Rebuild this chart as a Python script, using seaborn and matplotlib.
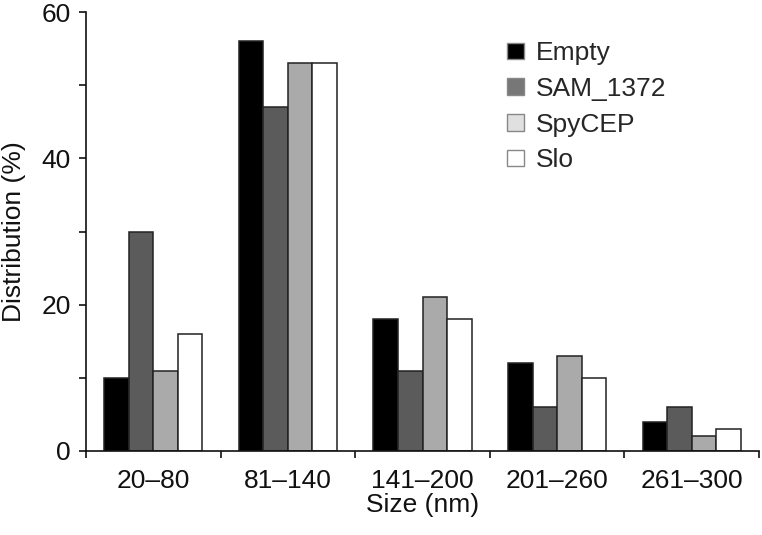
import matplotlib
matplotlib.use("Agg")
import matplotlib.pyplot as plt
from matplotlib.patches import Patch
from matplotlib.ticker import FixedLocator
import seaborn as sns
import pandas as pd

# Data
categories = ["20–80", "81–140", "141–200", "201–260", "261–300"]
series = ["Empty", "SAM_1372", "SpyCEP", "Slo"]
empty = [10, 56, 18, 12, 4]
sam_1372 = [30, 47, 11, 6, 6]
spycep = [11, 53, 21, 13, 2]
slo = [16, 53, 18, 10, 3]

bar_colors = ["#000000", "#5b5b5b", "#aaaaaa", "#ffffff"]
legend_colors = ["#000000", "#777777", "#e0e0e0", "#ffffff"]

rows = []
for name, vals in zip(series, [empty, sam_1372, spycep, slo]):
    for c, v in zip(categories, vals):
        rows.append({"Size": c, "Series": name, "Value": v})
df = pd.DataFrame(rows)

sns.set_style("ticks")
plt.rcParams["font.family"] = ["Liberation Sans", "DejaVu Sans"]

FS = 19

fig = plt.figure(figsize=(7.62, 5.35), dpi=100)
ax = fig.add_axes([86 / 762, 1 - 451 / 535, (759 - 86) / 762, (451 - 12) / 535])

sns.barplot(data=df, x="Size", y="Value", hue="Series", order=categories,
            hue_order=series, palette=bar_colors, edgecolor="#222222",
            linewidth=1.1, width=0.73, ax=ax, legend=False)

ax.set_xlim(-0.5, 4.5)
ax.set_ylim(0, 60)
ax.set_yticks([0, 20, 40, 60])
ax.yaxis.set_minor_locator(FixedLocator([10, 30, 50]))
ax.xaxis.set_minor_locator(FixedLocator([-0.5, 0.5, 1.5, 2.5, 3.5, 4.5]))
ax.tick_params(axis="x", which="major", length=0, labelsize=FS, pad=13, colors="#111111")
ax.tick_params(axis="x", which="minor", length=5, width=1.2, color="#111111")
ax.tick_params(axis="y", which="both", length=5, width=1.2, labelsize=FS, pad=6,
               color="#111111", labelcolor="#111111")

for s in ["top", "right"]:
    ax.spines[s].set_visible(False)
for s in ["left", "bottom"]:
    ax.spines[s].set_linewidth(1.2)
    ax.spines[s].set_color("#111111")

ax.set_xlabel("Size (nm)", fontsize=FS, labelpad=0, color="#111111")
ax.set_ylabel("Distribution (%)", fontsize=FS, labelpad=11, color="#111111")

handles = [Patch(facecolor=c, edgecolor="#888888", linewidth=1.0) for c in legend_colors]
ax.legend(handles, series, loc="upper left", bbox_to_anchor=(0.625, 0.933),
          frameon=False, fontsize=FS, handlelength=0.65, handleheight=0.6,
          handletextpad=0.45, labelspacing=0.44, borderpad=0, borderaxespad=0)

fig.savefig("out.png", dpi=100)
